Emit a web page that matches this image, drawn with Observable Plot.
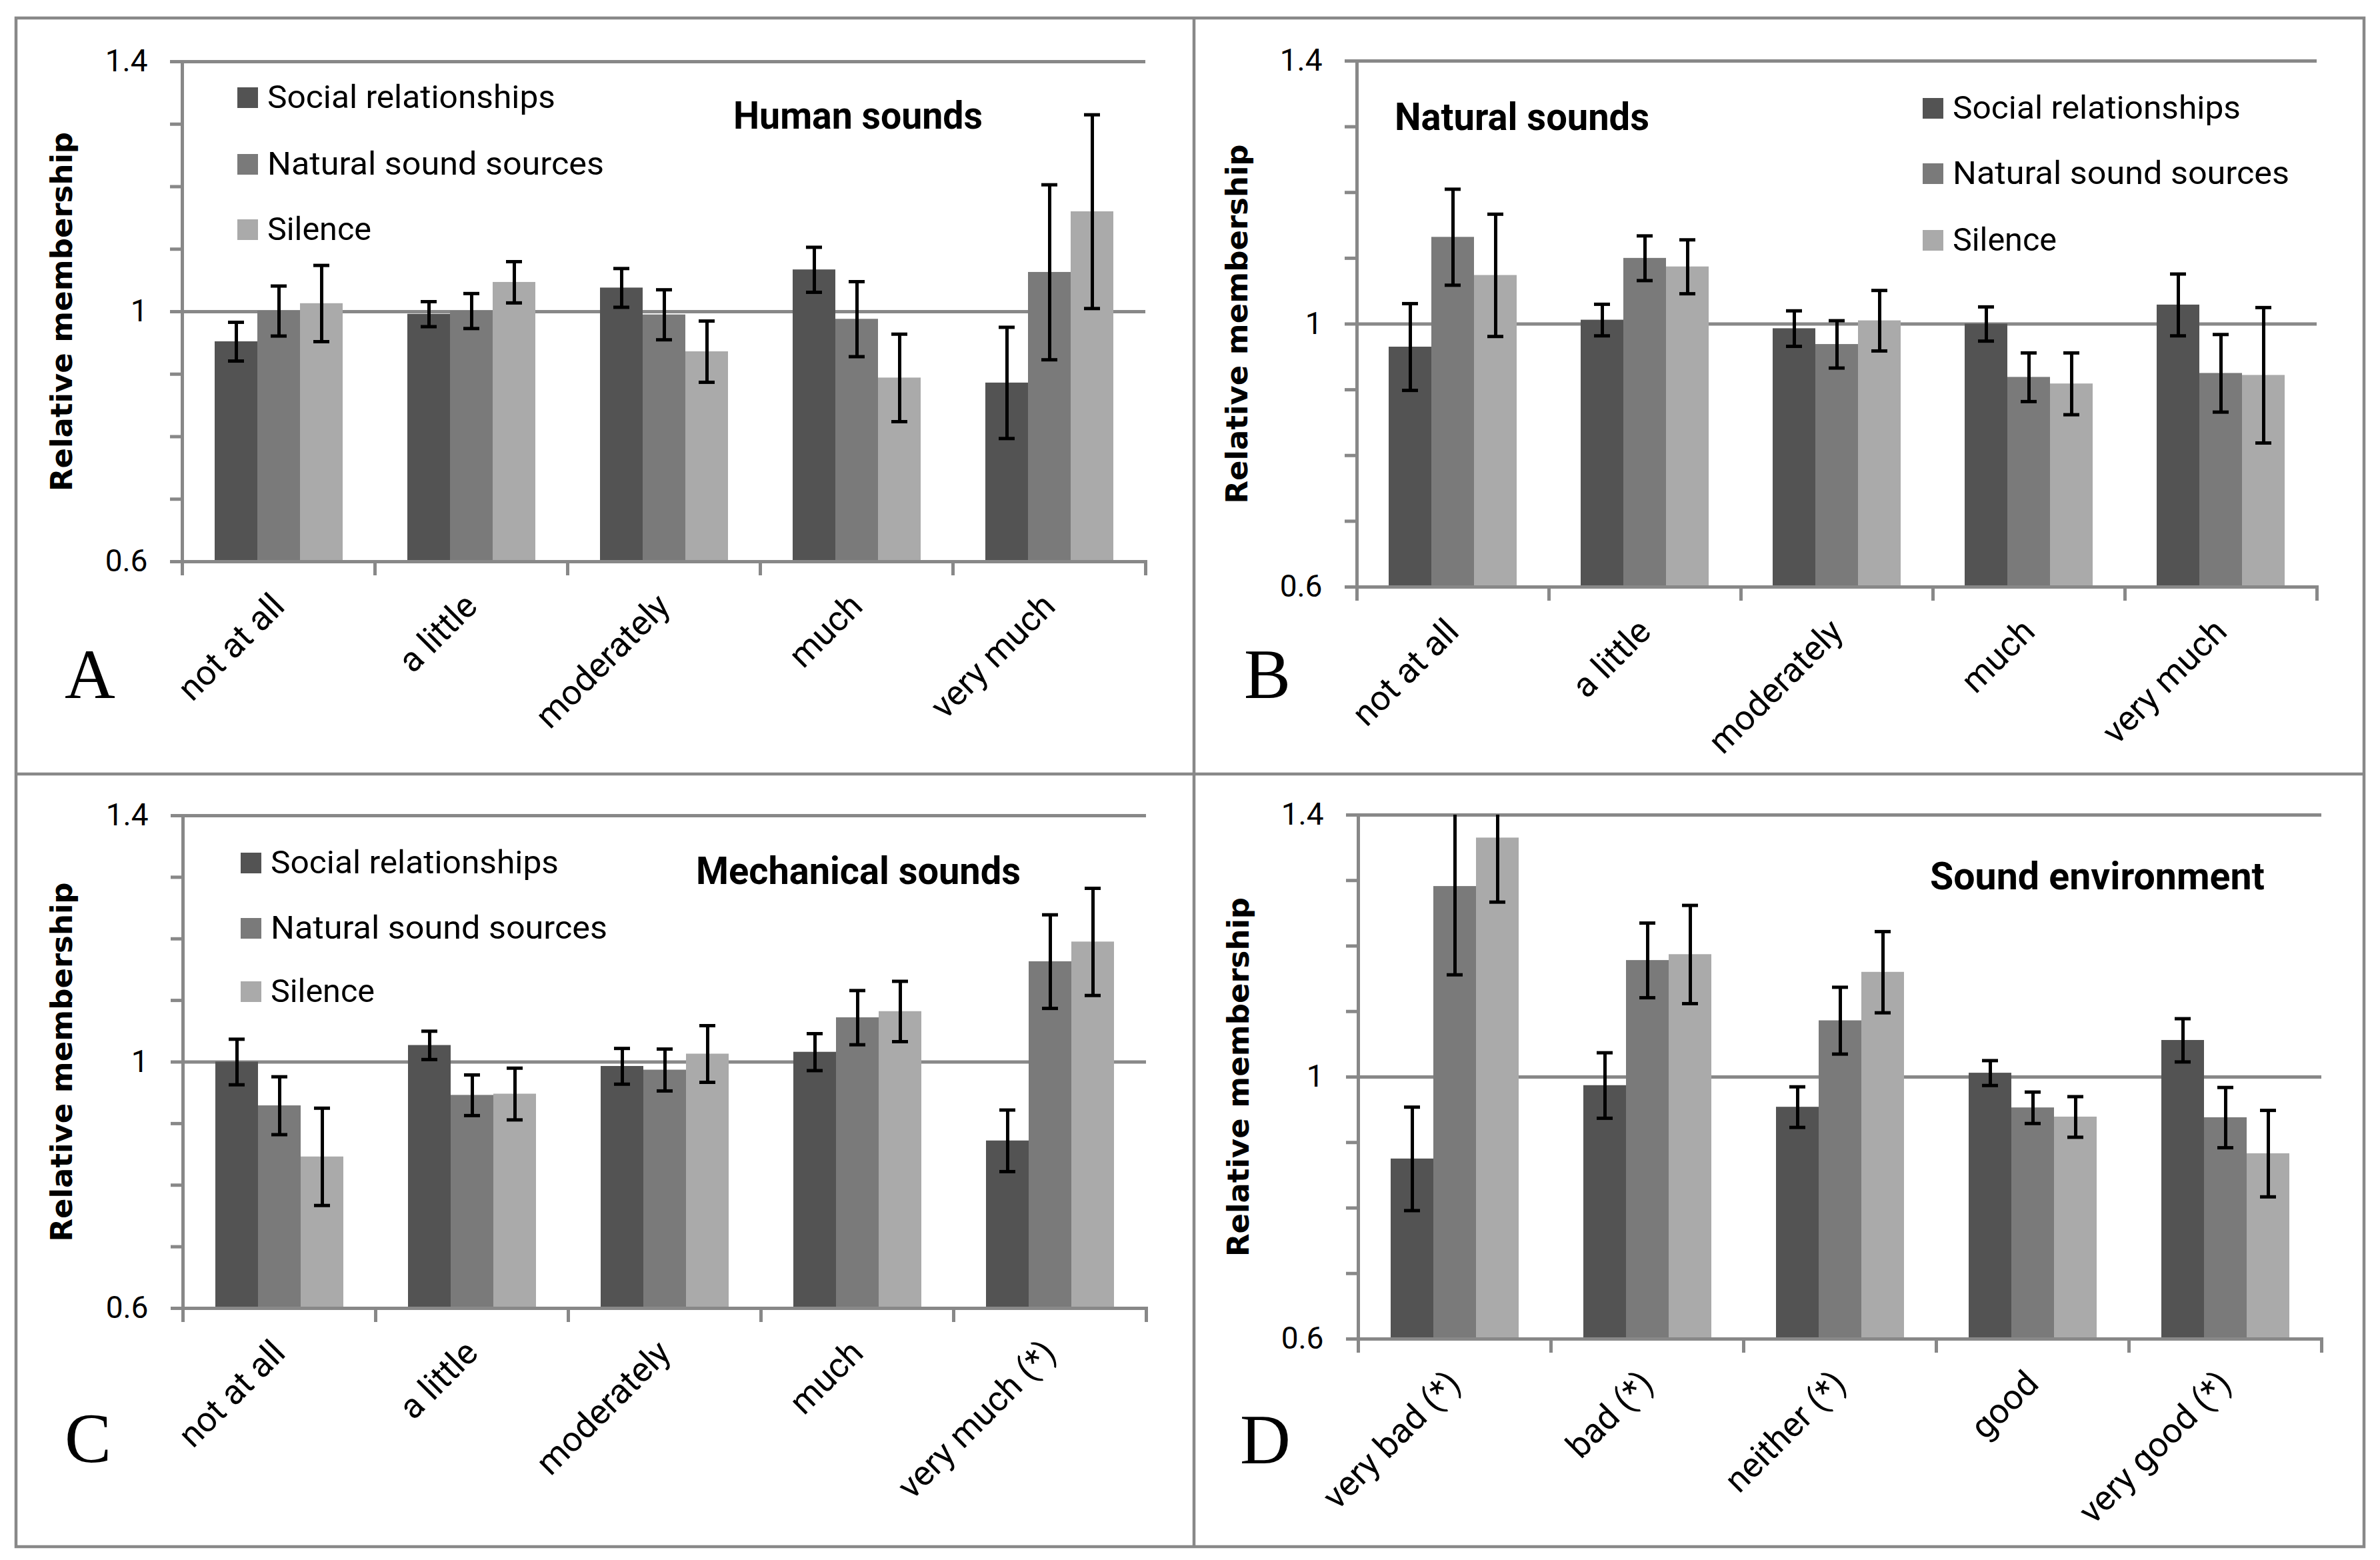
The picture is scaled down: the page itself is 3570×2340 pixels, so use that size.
<!DOCTYPE html>
<html>
<head>
<meta charset="utf-8">
<script src="https://cdn.jsdelivr.net/npm/d3@7"></script>
<script src="https://cdn.jsdelivr.net/npm/@observablehq/plot@0.6"></script>
<style>
html, body { margin: 0; padding: 0; background: #fff; }
#page { position: relative; width: 3570px; height: 2340px; background: #fff; overflow: hidden; }
.cell { position: absolute; }
.cell svg { max-width: none !important; overflow: visible; }
.cell svg text { fill: #000; }
.cell g[aria-label="y-axis label"] text { font-family: "DejaVu Sans", sans-serif; font-weight: bold; font-size: 45px; }
.cell g[aria-label="fx-axis tick label"] text { font-size: 52px; }
.cell g[aria-label="y-axis tick"] { stroke-width: 5px; }
#overlay { position: absolute; left: 0; top: 0; pointer-events: none; }
</style>
</head>
<body>
<div id="page"></div>
<script>
// ---------- data ----------
const seriesNames = ["Social relationships", "Natural sound sources", "Silence"];
const seriesColors = ["#535353", "#7a7a7a", "#aaaaaa"];

const catsAB = ["not at all", "a little", "moderately", "much", "very much"];
const catsC = ["not at all", "a little", "moderately", "much", "very much (*)"];
const catsD = ["very bad (*)", "bad (*)", "neither (*)", "good", "very good (*)"];

// A: Human sounds
const humanSocial = [0.952, 0.996, 1.038, 1.067, 0.886];
const humanSocialErr = [0.031, 0.020, 0.031, 0.036, 0.089];
const humanNatural = [1.001, 1.001, 0.995, 0.988, 1.063];
const humanNaturalErr = [0.040, 0.028, 0.040, 0.060, 0.140];
const humanSilence = [1.013, 1.047, 0.936, 0.894, 1.160];
const humanSilenceErr = [0.061, 0.033, 0.049, 0.070, 0.155];

// B: Natural sounds
const naturalSocial = [0.965, 1.006, 0.993, 1.000, 1.029];
const naturalSocialErr = [0.066, 0.024, 0.027, 0.026, 0.047];
const naturalNatural = [1.132, 1.100, 0.969, 0.919, 0.925];
const naturalNaturalErr = [0.073, 0.034, 0.036, 0.037, 0.059];
const naturalSilence = [1.074, 1.087, 1.005, 0.909, 0.922];
const naturalSilenceErr = [0.093, 0.041, 0.046, 0.047, 0.103];

// C: Mechanical sounds
const mechSocial = [1.000, 1.027, 0.993, 1.016, 0.872];
const mechSocialErr = [0.037, 0.023, 0.029, 0.030, 0.050];
const mechNatural = [0.929, 0.946, 0.987, 1.072, 1.163];
const mechNaturalErr = [0.047, 0.033, 0.034, 0.044, 0.076];
const mechSilence = [0.846, 0.948, 1.013, 1.082, 1.195];
const mechSilenceErr = [0.079, 0.042, 0.046, 0.049, 0.087];

// D: Sound environment
const envSocial = [0.875, 0.987, 0.954, 1.006, 1.056];
const envSocialErr = [0.079, 0.050, 0.031, 0.019, 0.033];
const envNatural = [1.291, 1.178, 1.086, 0.953, 0.938];
const envNaturalErr = [0.135, 0.057, 0.051, 0.024, 0.046];
const envSilence = [1.365, 1.187, 1.160, 0.939, 0.883];
const envSilenceErr = [0.098, 0.075, 0.062, 0.031, 0.066];

const yDomain = [0.6, 1.4];
const yTicks = [0.6, 0.7, 0.8, 0.9, 1.0, 1.1, 1.2, 1.3, 1.4];
const yLabelValues = [0.6, 1.0, 1.4];
const yLabelTexts = ["0.6", "1", "1.4"];
const gridValues = [1.0, 1.4];
const yTitle = "Relative membership";

// ---------- layout ----------
const panels = [
  { letter: "A", title: "Human sounds", cats: catsAB,
    vals: [humanSocial, humanNatural, humanSilence], errs: [humanSocialErr, humanNaturalErr, humanSilenceErr],
    left: 30, top: 30, width: 1758, height: 1130, mt: 62, mr: 69, mb: 318, ml: 241 },
  { letter: "B", title: "Natural sounds", cats: catsAB,
    vals: [naturalSocial, naturalNatural, naturalSilence], errs: [naturalSocialErr, naturalNaturalErr, naturalSilenceErr],
    left: 1795, top: 30, width: 1748, height: 1130, mt: 61, mr: 68, mb: 280, ml: 240 },
  { letter: "C", title: "Mechanical sounds", cats: catsC,
    vals: [mechSocial, mechNatural, mechSilence], errs: [mechSocialErr, mechNaturalErr, mechSilenceErr],
    left: 30, top: 1165, width: 1758, height: 1150, mt: 58, mr: 67, mb: 353, ml: 242 },
  { letter: "D", title: "Sound environment", cats: catsD,
    vals: [envSocial, envNatural, envSilence], errs: [envSocialErr, envNaturalErr, envSilenceErr],
    left: 1795, top: 1165, width: 1748, height: 1150, mt: 57, mr: 59, mb: 307, ml: 240 }
];

const page = document.getElementById("page");

function tickFmt(d) {
  const k = yLabelValues.findIndex(v => Math.abs(v - d) < 1e-9);
  return k >= 0 ? yLabelTexts[k] : "";
}

for (const p of panels) {
  const rows = [];
  p.cats.forEach((c, i) => seriesNames.forEach((s, j) => {
    rows.push({ cat: c, series: s, value: p.vals[j][i], lo: p.vals[j][i] - p.errs[j][i], hi: p.vals[j][i] + p.errs[j][i] });
  }));
  const fh = p.height - p.mt - p.mb;
  const chart = Plot.plot({
    width: p.width,
    height: p.height,
    marginTop: p.mt, marginRight: p.mr, marginBottom: p.mb, marginLeft: p.ml,
    style: { fontFamily: "Roboto, sans-serif", fontSize: "46px", color: "#888", background: "transparent", maxWidth: "none", overflow: "visible" },
    fx: { domain: p.cats, padding: 0, label: null, tickSize: 0, tickRotate: -45, tickPadding: 58 },
    x: { domain: seriesNames, paddingInner: 0, paddingOuter: 0.75, axis: null },
    y: { domain: yDomain, ticks: yTicks, tickFormat: tickFmt, tickSize: 18, tickPadding: 34,
         label: yTitle, labelAnchor: "center", labelArrow: "none", labelOffset: p.ml - 44 },
    color: { domain: seriesNames, range: seriesColors },
    marks: [
      Plot.ruleY(gridValues, { stroke: "#888", strokeWidth: 5 }),
      Plot.barY(rows, { fx: "cat", x: "series", y: "value", fill: "series", clip: true }),
      Plot.ruleX(rows, { fx: "cat", x: "series", y1: "lo", y2: "hi", stroke: "#000", strokeWidth: 5, clip: true }),
      Plot.tickY(rows, { fx: "cat", x: "series", y: "hi", stroke: "#000", strokeWidth: 5, insetLeft: 20, insetRight: 20, clip: true }),
      Plot.tickY(rows, { fx: "cat", x: "series", y: "lo", stroke: "#000", strokeWidth: 5, insetLeft: 20, insetRight: 20, clip: true }),
      Plot.ruleY([yDomain[0]], { stroke: "#888", strokeWidth: 5 }),
      Plot.frame({ anchor: "left", facetAnchor: "left", stroke: "#888", strokeWidth: 5 }),
      Plot.frame({ anchor: "left", stroke: "#888", strokeWidth: 5, insetTop: fh, insetBottom: -18 }),
      Plot.frame({ anchor: "right", stroke: "#888", strokeWidth: 5, insetTop: fh, insetBottom: -18 })
    ]
  });
  const cell = document.createElement("div");
  cell.className = "cell";
  cell.style.left = p.left + "px";
  cell.style.top = p.top + "px";
  cell.style.width = p.width + "px";
  cell.style.height = p.height + "px";
  cell.appendChild(chart);
  page.appendChild(cell);
}

// ---------- overlay: borders, panel letters, titles, legends ----------
const NS = "http://www.w3.org/2000/svg";
const ov = document.createElementNS(NS, "svg");
ov.setAttribute("id", "overlay");
ov.setAttribute("width", 3570);
ov.setAttribute("height", 2340);
page.appendChild(ov);
function el(tag, attrs, text) {
  const e = document.createElementNS(NS, tag);
  for (const k in attrs) e.setAttribute(k, attrs[k]);
  if (text != null) e.textContent = text;
  ov.appendChild(e);
  return e;
}
const lineStyle = { stroke: "#888", "stroke-width": 4.5, fill: "none" };
el("rect", { x: 24, y: 27, width: 3522, height: 2293, ...lineStyle });
el("line", { x1: 1791, y1: 27, x2: 1791, y2: 2320, ...lineStyle });
el("line", { x1: 24, y1: 1161, x2: 3546, y2: 1161, ...lineStyle });

const letterPos = [[97, 1047], [1866, 1047], [97, 2193], [1860, 2195]];
const titlePos = [[1100, 193, 374], [2092, 195, 382], [1044, 1326, 487], [2895, 1334, 502]];
panels.forEach((p, i) => {
  el("text", { x: letterPos[i][0], y: letterPos[i][1], "font-family": "Liberation Serif, serif", "font-size": 105, fill: "#000" }, p.letter);
  el("text", { x: titlePos[i][0], y: titlePos[i][1], "font-family": "Roboto, sans-serif", "font-weight": "bold", "font-size": 58,
    fill: "#000", textLength: titlePos[i][2], lengthAdjust: "spacingAndGlyphs" }, p.title);
});

const legends = [
  { x: 356, ys: [131, 231, 329] },
  { x: 2884, ys: [147, 245, 345] },
  { x: 361, ys: [1279, 1377, 1472] }
];
const legendLens = [432, 505, 156];
for (const lg of legends) {
  seriesNames.forEach((s, j) => {
    el("rect", { x: lg.x, y: lg.ys[j], width: 31, height: 31, fill: seriesColors[j] });
    el("text", { x: lg.x + 45, y: lg.ys[j] + 31, "font-family": "Roboto, sans-serif", "font-size": 49, fill: "#000",
      textLength: legendLens[j], lengthAdjust: "spacingAndGlyphs" }, s);
  });
}
</script>
</body>
</html>
